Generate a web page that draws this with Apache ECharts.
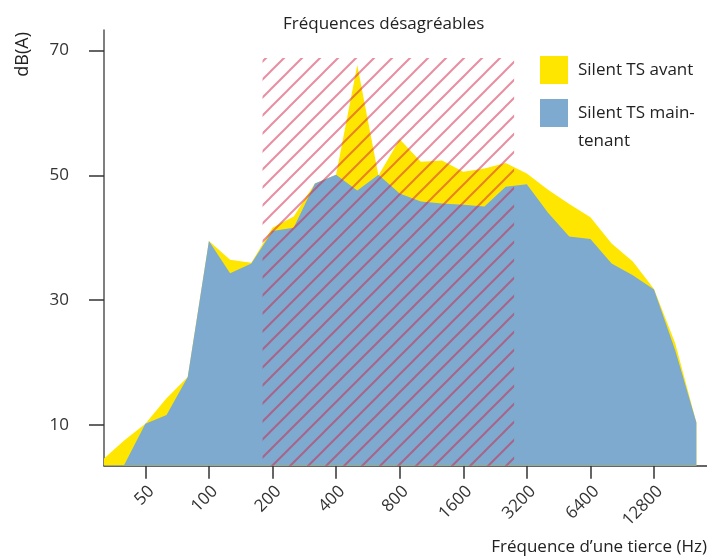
<!DOCTYPE html>
<html>
<head>
<meta charset="utf-8">
<script src="https://cdn.jsdelivr.net/npm/echarts@6/dist/echarts.min.js"></script>
<style>
  html, body { margin: 0; padding: 0; background: #ffffff; }
  #chart { width: 707px; height: 558px; }
</style>
</head>
<body>
<div id="chart"></div>
<script>
// Third-octave bands (index 0..28), labelled by doubling from 50 Hz
const bands = ['31.5','40','50','63','80','100','125','160','200','250','315','400','500','630','800','1000','1250','1600','2000','2500','3200','4000','5000','6400','8000','10000','12800','16000','20000'];
const tickBandIndex = [2, 5, 8, 11, 14, 17, 20, 23, 26];
const tickLabels = ['50','100','200','400','800','1600','3200','6400','12800'];

// dB(A) per band
const avant = [4.5, 7.5, 10.2, 14.3, 17.7, 39.5, 36.5, 36.0, 41.6, 43.4, 48.7, 50.1, 67.7, 50.0, 55.8, 52.2, 52.4, 50.6, 51.1, 52.0, 50.3, 47.7, 45.4, 43.3, 39.1, 36.2, 31.8, 23.1, 10.4];
const maintenant = [3.5, 3.6, 10.2, 11.6, 17.7, 39.5, 34.3, 35.9, 41.1, 41.6, 48.7, 50.1, 47.6, 50.1, 47.1, 45.8, 45.5, 45.3, 45.0, 48.2, 48.6, 44.0, 40.2, 39.8, 35.9, 34.0, 31.7, 22.0, 10.4];

const yTicks = [10, 30, 50, 70];
const yMin = 3.48, yMax = 73.3;

// "Fréquences désagréables" zone (band index range, top in dB)
const unpleasantBandRange = [7.53, 19.4];
const unpleasantTop = 68.8;

const seriesNames = ['Silent TS avant', 'Silent TS maintenant'];
const seriesColors = ['#ffe600', '#7eaacf'];

// hatch pattern
const hatch = document.createElement('canvas');
const s = 18;
hatch.width = s; hatch.height = s;
const ctx = hatch.getContext('2d');
ctx.strokeStyle = 'rgba(212, 30, 70, 0.5)';
ctx.lineWidth = 2;
ctx.beginPath();
ctx.moveTo(0, s); ctx.lineTo(s, 0);
ctx.moveTo(-2, 2); ctx.lineTo(2, -2);
ctx.moveTo(s - 2, s + 2); ctx.lineTo(s + 2, s - 2);
ctx.stroke();

const FONT = 'Open Sans';
const toPairs = arr => arr.map((v, i) => [i, v]);
const legendText = { fontFamily: FONT, fontSize: 17, lineHeight: 28, color: '#222', padding: [0, 0, 0, 5] };

const chart = echarts.init(document.getElementById('chart'), null, { renderer: 'canvas' });
chart.setOption({
  animation: false,
  backgroundColor: '#ffffff',
  textStyle: { fontFamily: FONT },
  title: {
    text: 'Fréquences désagréables',
    left: 283, top: 16, padding: 0,
    textStyle: { fontFamily: FONT, fontSize: 17, fontWeight: 'normal', color: '#222' }
  },
  legend: [
    {
      orient: 'vertical', left: 540, top: 56, padding: 0,
      itemWidth: 28, itemHeight: 28,
      selectedMode: false, icon: 'rect',
      textStyle: legendText,
      data: [{ name: seriesNames[0], itemStyle: { color: seriesColors[0], borderWidth: 0 } }]
    },
    {
      orient: 'vertical', left: 540, top: 99, padding: 0,
      itemWidth: 28, itemHeight: 56,
      selectedMode: false,
      icon: 'path://M0,0L28,0L28,28L0,28Z M0,56L0.001,56L0,55.999Z',
      formatter: () => 'Silent TS main-\ntenant',
      textStyle: legendText,
      data: [{ name: seriesNames[1], itemStyle: { color: seriesColors[1], borderWidth: 0 } }]
    }
  ],
  grid: { left: 104, right: 0, top: 30, bottom: 92.3, containLabel: false, outerBoundsMode: 'none' },
  xAxis: {
    type: 'value',
    min: 0.05, max: 28.5,
    name: 'Fréquence d’une tierce (Hz)',
    nameLocation: 'end', nameGap: 0, nameMoveOverlap: false,
    nameTextStyle: { fontFamily: FONT, fontSize: 17, color: '#222', align: 'right', verticalAlign: 'top', padding: [73, 0, 0, 0] },
    splitLine: { show: false },
    axisLine: { show: true, onZero: false, lineStyle: { color: '#333', width: 1.5 } },
    axisTick: { show: true, length: 13, customValues: tickBandIndex, lineStyle: { color: '#333', width: 1.5 } },
    axisLabel: {
      customValues: tickBandIndex,
      rotate: 45, margin: 17, verticalAlign: 'top',
      fontFamily: FONT, fontSize: 17, color: '#333',
      formatter: v => { const k = tickBandIndex.indexOf(Math.round(v)); return k >= 0 ? tickLabels[k] : ''; }
    }
  },
  yAxis: {
    type: 'value',
    min: yMin, max: yMax,
    name: 'dB(A)',
    nameLocation: 'end', nameGap: 0, nameRotate: 90, nameMoveOverlap: false,
    nameTextStyle: { fontFamily: FONT, fontSize: 18, color: '#222', align: 'right', verticalAlign: 'bottom', padding: [0, 2, 72, 0] },
    splitLine: { show: false },
    axisLine: { show: true, onZero: false, lineStyle: { color: '#555', width: 1.5 } },
    axisTick: { show: true, length: 15, customValues: yTicks, lineStyle: { color: '#333', width: 1.5 } },
    axisLabel: { customValues: yTicks, margin: 35, fontFamily: FONT, fontSize: 17, color: '#333' }
  },
  series: [
    {
      name: seriesNames[0], type: 'line', data: toPairs(avant),
      showSymbol: false, symbol: 'none', z: 2,
      itemStyle: { color: seriesColors[0] },
      lineStyle: { width: 0 },
      areaStyle: { color: seriesColors[0], opacity: 1 }
    },
    {
      name: seriesNames[1], type: 'line', data: toPairs(maintenant),
      showSymbol: false, symbol: 'none', z: 3,
      itemStyle: { color: seriesColors[1] },
      lineStyle: { width: 0 },
      areaStyle: { color: seriesColors[1], opacity: 1 },
      markArea: {
        silent: true, z: 10,
        itemStyle: { color: { image: hatch, repeat: 'repeat' }, borderWidth: 0 },
        label: { show: false },
        data: [[
          { xAxis: unpleasantBandRange[0], yAxis: yMin },
          { xAxis: unpleasantBandRange[1], yAxis: unpleasantTop }
        ]]
      }
    }
  ]
});
</script>
</body>
</html>
